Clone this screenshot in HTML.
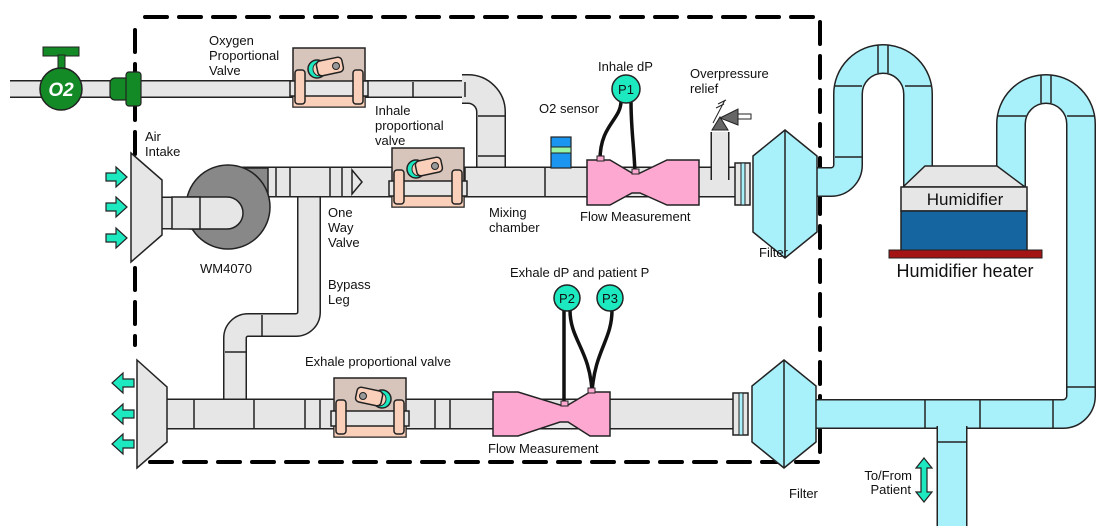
<!DOCTYPE html>
<html><head><meta charset="utf-8"><style>
html,body{margin:0;padding:0;background:#fff;}
svg{display:block;}
text{font-family:"Liberation Sans",Arial,sans-serif;font-size:13px;fill:#111;}
</style></head><body>
<svg width="1101" height="529" viewBox="0 0 1101 529" xmlns="http://www.w3.org/2000/svg">
<defs>
<g id="valve">
  <rect x="0" y="0" width="72" height="59" fill="#d7c5bb" stroke="#222" stroke-width="1.5"/>
  <rect x="0" y="48" width="72" height="11" fill="#fbd0bb" stroke="#222" stroke-width="1"/>
  <rect x="-3" y="33" width="78" height="15" fill="#e6e6e6" stroke="#222" stroke-width="1.5"/>
  <rect x="2" y="22" width="10" height="34" rx="3" fill="#fbd0bb" stroke="#222" stroke-width="1.5"/>
  <rect x="60" y="22" width="10" height="34" rx="3" fill="#fbd0bb" stroke="#222" stroke-width="1.5"/>
  <circle cx="24" cy="21" r="9" fill="#1de9c0" stroke="#222" stroke-width="1.5"/>
  <circle cx="27" cy="21" r="7" fill="#fbd0bb" stroke="#222" stroke-width="1"/>
  <rect x="24" y="11" width="26" height="15" rx="4" transform="rotate(-12 37 19)" fill="#fbd0bb" stroke="#222" stroke-width="1.5"/>
  <circle cx="43" cy="18" r="3.5" fill="#999" stroke="#222" stroke-width="1"/>
</g>
</defs>

<g stroke="#000" stroke-width="4" stroke-dasharray="22,12" fill="none" stroke-linecap="round">
  <path d="M145 17 H820 V462 H150"/>
  <path d="M135 30 V345"/>
</g>

<g fill="none">
  <path d="M10 89 H470" stroke="#222" stroke-width="18"/>
  <path d="M10 89 H470" stroke="#e6e6e6" stroke-width="15"/>
  <path d="M462 89 H468 A23 23 0 0 1 491 112 V182" stroke="#222" stroke-width="30"/>
  <path d="M462 89 H468 A23 23 0 0 1 491 112 V182" stroke="#e6e6e6" stroke-width="27"/>
  <path d="M309 182 V312 A13 13 0 0 1 296 325 H248 A13 13 0 0 0 235 338 V414" stroke="#222" stroke-width="24"/>
  <path d="M309 182 V312 A13 13 0 0 1 296 325 H248 A13 13 0 0 0 235 338 V414" stroke="#e6e6e6" stroke-width="21"/>
  <path d="M230 182 H740" stroke="#222" stroke-width="31"/>
  <path d="M230 182 H740" stroke="#e6e6e6" stroke-width="28"/>
  <path d="M165 414 H740" stroke="#222" stroke-width="31"/>
  <path d="M165 414 H740" stroke="#e6e6e6" stroke-width="28"/>
  <path d="M720 180 V132" stroke="#222" stroke-width="19"/>
  <path d="M720 180 V132" stroke="#e6e6e6" stroke-width="16"/>
  <path d="M160 213 H230" stroke="#222" stroke-width="33"/>
  <path d="M160 213 H230" stroke="#e6e6e6" stroke-width="30"/>
</g>
<g stroke="#222" stroke-width="1.5">
  <line x1="276" y1="168" x2="276" y2="196"/><line x1="290" y1="168" x2="290" y2="196"/>
  <line x1="330" y1="168" x2="330" y2="196"/><line x1="342" y1="168" x2="342" y2="196"/>
  <line x1="413" y1="82" x2="413" y2="97"/><line x1="465" y1="82" x2="465" y2="97"/>
  <line x1="478" y1="116" x2="505" y2="116"/><line x1="478" y1="156" x2="505" y2="156"/>
  <line x1="465" y1="168" x2="465" y2="196"/><line x1="545" y1="168" x2="545" y2="196"/>
  <line x1="194" y1="400" x2="194" y2="428"/><line x1="254" y1="400" x2="254" y2="428"/>
  <line x1="305" y1="400" x2="305" y2="428"/><line x1="320" y1="400" x2="320" y2="428"/>
  <line x1="435" y1="400" x2="435" y2="428"/><line x1="450" y1="400" x2="450" y2="428"/>
  <line x1="225" y1="352" x2="246" y2="352"/><line x1="262" y1="315" x2="262" y2="336"/>
</g>
<polygon points="352,170 362,182 352,194" fill="#e6e6e6" stroke="#222" stroke-width="1.5"/>

<rect x="228" y="168" width="40" height="29" fill="#888" stroke="#222" stroke-width="1.5"/>
<circle cx="228" cy="207" r="42" fill="#888" stroke="#222" stroke-width="1.5"/>
<path d="M190 197 H227 A16 16 0 0 1 227 229 H190 Z" fill="#e6e6e6" stroke="#222" stroke-width="1.5"/>
<path d="M172 197 H200 V229 H172 Z" fill="#e6e6e6" stroke="#222" stroke-width="1.5"/>

<polygon points="131,153 162,180 162,235 131,262" fill="#e6e6e6" stroke="#222" stroke-width="1.5"/>
<polygon points="137,360 167,387 167,442 137,468" fill="#e6e6e6" stroke="#222" stroke-width="1.5"/>
<g fill="#1de9c0" stroke="#222" stroke-width="1.2">
  <polygon points="106,173 116,173 116,167 127,177 116,187 116,181 106,181"/>
  <polygon points="106,203 116,203 116,197 127,207 116,217 116,211 106,211"/>
  <polygon points="106,234 116,234 116,228 127,238 116,248 116,242 106,242"/>
  <polygon points="134,379 123,379 123,373 112,383 123,393 123,387 134,387"/>
  <polygon points="134,410 123,410 123,404 112,414 123,424 123,418 134,418"/>
  <polygon points="134,440 123,440 123,434 112,444 123,454 123,448 134,448"/>
</g>

<rect x="43" y="47" width="36" height="9" fill="#138a26" stroke="#222" stroke-width="1"/>
<rect x="58" y="55" width="7" height="16" fill="#138a26" stroke="#222" stroke-width="1"/>
<circle cx="61" cy="89" r="21" fill="#138a26" stroke="#222" stroke-width="1.5"/>
<text x="61" y="96" text-anchor="middle" style="font-size:19px;font-weight:bold;font-style:italic;fill:#fff">O2</text>
<rect x="110" y="78" width="20" height="22" rx="5" fill="#138a26" stroke="#222" stroke-width="1.2"/>
<rect x="126" y="72" width="15" height="34" rx="3" fill="#138a26" stroke="#222" stroke-width="1.2"/>

<use href="#valve" x="293" y="48"/>
<use href="#valve" x="392" y="148"/>
<g transform="translate(406,378) scale(-1,1)"><use href="#valve" x="0" y="0"/></g>

<rect x="551" y="137" width="20" height="31" fill="#1a96f0" stroke="#222" stroke-width="1.2"/>
<rect x="551" y="147" width="20" height="6" fill="#98f5a8" stroke="#222" stroke-width="1"/>

<polygon points="587,160 610,160 632,173 640,173 667,160 699,160 699,205 667,205 640,193 632,193 610,205 587,205" fill="#fca8d0" stroke="#222" stroke-width="1.5"/>
<polygon points="493,392 518,392 560,405 568,405 590,392 610,392 610,436 590,436 568,422 560,422 518,436 493,436" fill="#fca8d0" stroke="#222" stroke-width="1.5"/>
<g fill="none" stroke="#111" stroke-width="3.5">
  <path d="M621 101 C621 120 600 125 600 160"/>
  <path d="M631 101 C631 130 634 145 635 173"/>
  <path d="M564 310 V403"/>
  <path d="M570 310 C570 340 590 350 592 392"/>
  <path d="M612 310 C612 340 595 350 592 392"/>
</g>
<g fill="#fca8d0" stroke="#222" stroke-width="1">
  <rect x="597" y="156" width="7" height="5"/><rect x="632" y="169" width="7" height="5"/>
  <rect x="561" y="401" width="7" height="5"/><rect x="588" y="388" width="7" height="5"/>
</g>
<g fill="#1de9c0" stroke="#222" stroke-width="1.5">
  <circle cx="626" cy="89" r="14"/><circle cx="567" cy="298" r="13"/><circle cx="610" cy="298" r="13"/>
</g>
<text x="626" y="94" text-anchor="middle">P1</text>
<text x="567" y="303" text-anchor="middle">P2</text>
<text x="610" y="303" text-anchor="middle">P3</text>

<polygon points="712,130 720,117 728,130" fill="#666" stroke="#222" stroke-width="1"/>
<polygon points="720,118 738,109 738,125" fill="#666" stroke="#222" stroke-width="1"/>
<rect x="738" y="114" width="13" height="5" fill="#fff" stroke="#222" stroke-width="1"/>
<path d="M713 123 L725 100 M716 108 L724 104 M718 104 L726 100" stroke="#222" stroke-width="1" fill="none"/>

<g fill="none">
  <path d="M800 182 H831 A17 17 0 0 0 848 165 V94 A35 35 0 0 1 918 94 V190" stroke="#222" stroke-width="30"/>
  <path d="M800 182 H831 A17 17 0 0 0 848 165 V94 A35 35 0 0 1 918 94 V190" stroke="#a8f0fa" stroke-width="27"/>
  <path d="M1011 190 V124 A35 35 0 0 1 1081 124 V396 A18 18 0 0 1 1063 414 H800" stroke="#222" stroke-width="30"/>
  <path d="M1011 190 V124 A35 35 0 0 1 1081 124 V396 A18 18 0 0 1 1063 414 H800" stroke="#a8f0fa" stroke-width="27"/>
  <path d="M952 405 V526" stroke="#222" stroke-width="31"/>
  <path d="M952 405 V526" stroke="#a8f0fa" stroke-width="28"/>
</g>
<rect x="936" y="402" width="32" height="24" fill="#a8f0fa"/>
<g stroke="#222" stroke-width="1.5">
  <line x1="878" y1="45" x2="878" y2="73"/><line x1="888" y1="45" x2="888" y2="73"/>
  <line x1="1041" y1="75" x2="1041" y2="103"/><line x1="1051" y1="75" x2="1051" y2="103"/>
  <line x1="835" y1="86" x2="862" y2="86"/><line x1="905" y1="86" x2="932" y2="86"/>
  <line x1="997" y1="116" x2="1026" y2="116"/><line x1="1067" y1="116" x2="1095" y2="116"/>
  <line x1="1067" y1="387" x2="1095" y2="387"/><line x1="1053" y1="400" x2="1053" y2="428"/>
  <line x1="925" y1="400" x2="925" y2="428"/><line x1="980" y1="400" x2="980" y2="428"/>
  <line x1="938" y1="442" x2="966" y2="442"/><line x1="835" y1="157" x2="862" y2="157"/>
</g>

<rect x="735" y="163" width="15" height="42" fill="#e6e6e6" stroke="#222" stroke-width="1.5"/>
<rect x="741" y="163" width="4" height="42" fill="#a8f0fa" stroke="#222" stroke-width="1"/>
<rect x="733" y="393" width="15" height="42" fill="#e6e6e6" stroke="#222" stroke-width="1.5"/>
<rect x="739" y="393" width="4" height="42" fill="#a8f0fa" stroke="#222" stroke-width="1"/>
<polygon points="785,130 817,156 817,232 785,258 753,232 753,156" fill="#a8f0fa" stroke="#222" stroke-width="1.5"/>
<line x1="785" y1="130" x2="785" y2="258" stroke="#222" stroke-width="1.5"/>
<polygon points="784,360 816,386 816,442 784,468 752,442 752,386" fill="#a8f0fa" stroke="#222" stroke-width="1.5"/>
<line x1="784" y1="360" x2="784" y2="468" stroke="#222" stroke-width="1.5"/>

<polygon points="903,187 925,166 997,166 1025,187" fill="#e6e6e6" stroke="#222" stroke-width="1.5"/>
<rect x="901" y="187" width="126" height="24" fill="#e6e6e6" stroke="#222" stroke-width="1.5"/>
<rect x="901" y="211" width="126" height="40" fill="#1565a0" stroke="#222" stroke-width="1.5"/>
<rect x="889" y="250" width="153" height="8" fill="#a51414" stroke="#222" stroke-width="1"/>
<text x="965" y="205" text-anchor="middle" style="font-size:17px">Humidifier</text>
<text x="965" y="277" text-anchor="middle" style="font-size:18px">Humidifier heater</text>

<polygon points="924,458 932,468 927,468 927,492 932,492 924,502 916,492 921,492 921,468 916,468" fill="#1de9c0" stroke="#222" stroke-width="1.2"/>

<text x="209" y="45">Oxygen</text><text x="209" y="60">Proportional</text><text x="209" y="75">Valve</text>
<text x="145" y="141">Air</text><text x="145" y="156">Intake</text>
<text x="375" y="115">Inhale</text><text x="375" y="130">proportional</text><text x="375" y="145">valve</text>
<text x="539" y="113">O2 sensor</text>
<text x="598" y="71">Inhale dP</text>
<text x="690" y="78">Overpressure</text><text x="690" y="93">relief</text>
<text x="328" y="217">One</text><text x="328" y="232">Way</text><text x="328" y="247">Valve</text>
<text x="489" y="217">Mixing</text><text x="489" y="232">chamber</text>
<text x="580" y="221">Flow Measurement</text>
<text x="759" y="257">Filter</text>
<text x="200" y="273">WM4070</text>
<text x="328" y="289">Bypass</text><text x="328" y="304">Leg</text>
<text x="510" y="277">Exhale dP and patient P</text>
<text x="305" y="366">Exhale proportional valve</text>
<text x="488" y="453">Flow Measurement</text>
<text x="789" y="498">Filter</text>
<text x="912" y="480" text-anchor="end">To/From</text><text x="911" y="494" text-anchor="end">Patient</text>
</svg>
</body></html>
